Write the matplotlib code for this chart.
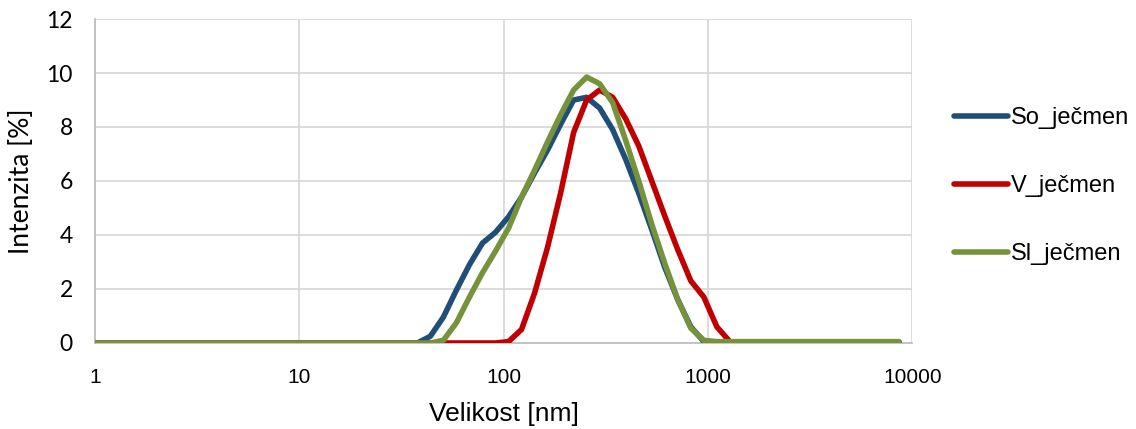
import matplotlib
matplotlib.use('Agg')
import matplotlib.pyplot as plt

# Velikost [nm] - DLS size classes
sizes = [0.9649, 1.117, 1.294, 1.499, 1.736, 2.010, 2.328, 2.696, 3.122, 3.615,
         4.187, 4.849, 5.615, 6.503, 7.531, 8.721, 10.10, 11.70, 13.54, 15.69,
         18.17, 21.04, 24.36, 28.21, 32.67, 37.84, 43.82, 50.75, 58.77, 68.06,
         78.82, 91.28, 105.7, 122.4, 141.8, 164.2, 190.1, 220.2, 255.0, 295.3,
         342.0, 396.1, 458.7, 531.2, 615.1, 712.4, 825.0, 955.4, 1106, 1281,
         1484, 1718, 1990, 2305, 2669, 3091, 3580, 4145, 4801, 5560,
         6439, 7456, 8635]

# Intenzita [%]
so_jecmen = [0] * 26 + [0.25, 0.96, 1.96, 2.9, 3.7, 4.1, 4.67, 5.4, 6.3, 7.15,
                        8.1, 9.0, 9.1, 8.7, 7.9, 6.8, 5.55, 4.2, 2.8, 1.6,
                        0.6, 0.05] + [0] * 15
v_jecmen = [0] * 32 + [0.05, 0.5, 1.85, 3.55, 5.55, 7.8, 9.0, 9.37, 9.1, 8.3,
                       7.3, 6.0, 4.7, 3.45, 2.3, 1.7, 0.6, 0.05] + [0] * 13
sl_jecmen = [0] * 27 + [0.1, 0.75, 1.7, 2.6, 3.4, 4.25, 5.4, 6.4, 7.45, 8.45,
                        9.37, 9.85, 9.6, 8.9, 7.5, 6.0, 4.4, 2.95, 1.6, 0.55,
                        0.1] + [0.05] * 15

series = [
    ('So_ječmen', so_jecmen, '#1f4e79'),
    ('V_ječmen', v_jecmen, '#c00000'),
    ('Sl_ječmen', sl_jecmen, '#76933c'),
]

fig = plt.figure(figsize=(11.36, 4.29), dpi=100)
ax = fig.add_axes([0.0836, 0.2005, 0.7194, 0.7552])

for label, vals, c in series:
    ax.plot(sizes, vals, color=c, linewidth=4.0, label=label,
            solid_capstyle='round', solid_joinstyle='round', zorder=3)

ax.set_xscale('log')
ax.set_xlim(1, 10000)
ax.set_ylim(0, 12)
ax.set_xticks([1, 10, 100, 1000, 10000])
ax.set_xticklabels(['1', '10', '100', '1000', '10000'])
ax.set_yticks(range(0, 13, 2))
ax.minorticks_off()
ax.grid(True, color='#d9d9d9', linewidth=1.3, zorder=0)

for s in ['top', 'right']:
    ax.spines[s].set_visible(False)
for s in ['left', 'bottom']:
    ax.spines[s].set_color('#bfbfbf')
    ax.spines[s].set_linewidth(1.3)

ax.tick_params(axis='both', length=0)
ax.tick_params(axis='x', pad=18)
ax.tick_params(axis='y', pad=16)
for t in ax.get_xticklabels():
    t.set_fontfamily(['Liberation Sans', 'DejaVu Sans'])
    t.set_fontsize(15)
for t in ax.get_yticklabels():
    t.set_fontfamily(['Lato', 'DejaVu Sans'])
    t.set_fontsize(16.5)

ax.set_xlabel('Velikost [nm]', fontsize=19, family=['Liberation Sans', 'DejaVu Sans'], labelpad=11)
ax.set_ylabel('Intenzita [%]', fontsize=19, family=['Lato', 'DejaVu Sans'], labelpad=9)

fig.legend(loc='center left', bbox_to_anchor=(0.821, 0.566), frameon=False,
           prop={'family': ['Liberation Sans', 'DejaVu Sans'], 'size': 17},
           handlelength=2.3, handletextpad=0.12, labelspacing=1.95)

plt.savefig('out.png', dpi=100)
